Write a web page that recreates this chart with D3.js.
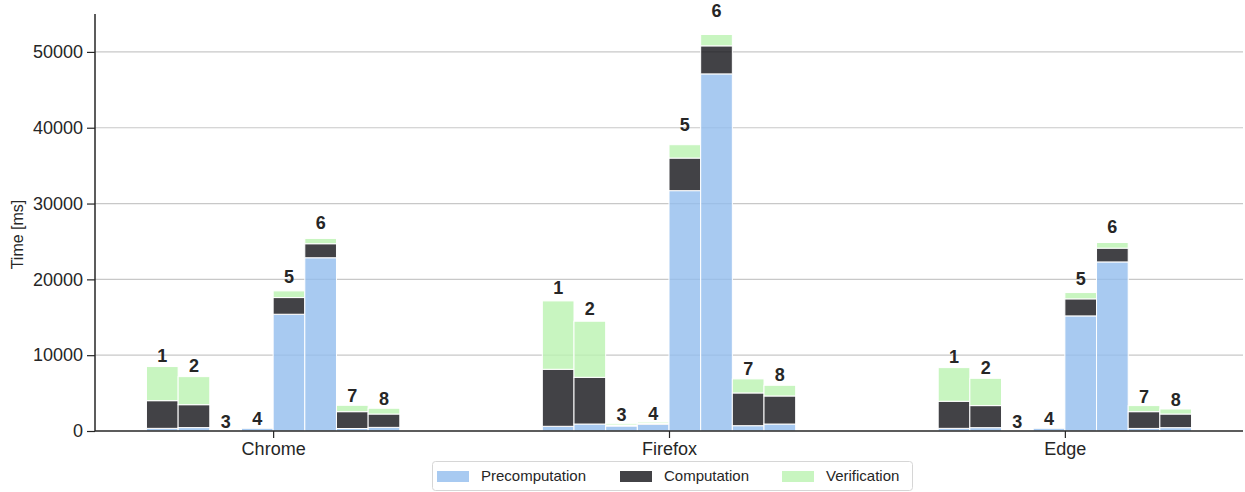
<!DOCTYPE html>
<html>
<head>
<meta charset="utf-8">
<script src="https://cdn.jsdelivr.net/npm/d3@7"></script>
<style>
  html, body { margin: 0; padding: 0; background: #fff; }
  svg { display: block; font-family: "Liberation Sans", Arial, sans-serif; }
</style>
</head>
<body>
<svg id="chart" width="1245" height="492"></svg>
<script>
// Browsers on the x axis, one group of eight runs each
const browsers = ["Chrome", "Firefox", "Edge"];
const runLabels = ["1", "2", "3", "4", "5", "6", "7", "8"];
const phases = ["Precomputation", "Computation", "Verification"];

// Time per phase [ms], one entry per run
const precomputation = {
  Chrome:  [350, 450, 40, 380, 15400, 22850, 330, 480],
  Firefox: [620, 920, 660, 880, 31700, 47100, 700, 920],
  Edge:    [350, 440, 40, 380, 15180, 22300, 340, 440]
};
const computation = {
  Chrome:  [3650, 3020, 30, 30, 2200, 1850, 2220, 1760],
  Firefox: [7520, 6160, 130, 130, 4300, 3700, 4320, 3700],
  Edge:    [3570, 2910, 30, 30, 2250, 1820, 2210, 1800]
};
const verification = {
  Chrome:  [4500, 3700, 50, 50, 880, 700, 840, 760],
  Firefox: [9020, 7400, 220, 180, 1760, 1500, 1850, 1410],
  Edge:    [4440, 3600, 50, 50, 830, 740, 800, 660]
};
const yTicks = [0, 10000, 20000, 30000, 40000, 50000];

const phaseData = [precomputation, computation, verification];
const colors = ["#92bdee", "#131318", "#baf2b0"];
const barOpacity = 0.8;

const svg = d3.select("#chart");
const plotLeft = 95, plotRight = 1243, plotTop = 14, plotBottom = 431;

const x = d3.scaleLinear().domain([-0.45, browsers.length - 0.55]).range([plotLeft, plotRight]);
const y = d3.scaleLinear().domain([0, 55000]).range([plotBottom, plotTop]);
const barW = 0.08;

// grid
svg.append("g")
  .selectAll("line")
  .data(yTicks.slice(1))
  .join("line")
  .attr("x1", plotLeft).attr("x2", plotRight)
  .attr("y1", d => y(d)).attr("y2", d => y(d))
  .attr("stroke", "#c8c8c8").attr("stroke-width", 1.2);

// stacked bars
const rows = [];
browsers.forEach((b, bi) => {
  runLabels.forEach((r, ri) => {
    let base = 0;
    const segs = phaseData.map((pd, pi) => {
      const s = { b, bi, ri, pi, y0: base, y1: base + pd[b][ri] };
      base += pd[b][ri];
      return s;
    });
    rows.push({ b, bi, ri, label: r, total: base, segs });
  });
});

const barX = (bi, ri) => x(bi + (ri - 3.5) * barW - barW / 2);
const barPx = x(barW) - x(0);

svg.append("g")
  .selectAll("rect")
  .data(rows.flatMap(r => r.segs))
  .join("rect")
  .attr("x", d => barX(d.bi, d.ri))
  .attr("width", barPx)
  .attr("y", d => y(d.y1))
  .attr("height", d => y(d.y0) - y(d.y1))
  .attr("fill", d => colors[d.pi])
  .attr("fill-opacity", barOpacity)
  .attr("stroke", "#ffffff")
  .attr("stroke-width", 1);

// run numbers above bars
svg.append("g")
  .selectAll("text")
  .data(rows)
  .join("text")
  .attr("x", d => barX(d.bi, d.ri) + barPx / 2)
  .attr("y", d => y(d.total * 1.04) - 2)
  .attr("text-anchor", "middle")
  .attr("font-size", 18)
  .attr("font-weight", "bold")
  .attr("fill", "#262626")
  .text(d => d.label);

// axes
const yAxis = d3.axisLeft(y).tickValues(yTicks).tickSize(8).tickPadding(4).tickFormat(d3.format("d"));
const gy = svg.append("g").attr("transform", `translate(${plotLeft},0)`).call(yAxis);
gy.select(".domain").attr("d", `M0,${plotTop}V${plotBottom}`);

const xAxis = d3.axisBottom(x).tickValues(browsers.map((_, i) => i)).tickFormat(i => browsers[i]).tickSize(7).tickPadding(4);
const gx = svg.append("g").attr("transform", `translate(0,${plotBottom})`).call(xAxis);
gx.select(".domain").attr("d", `M${plotLeft},0H${plotRight}`);

[gx, gy].forEach(g => {
  g.select(".domain").attr("stroke", "#262626").attr("stroke-width", 1.5);
  g.selectAll(".tick line").attr("stroke", "#262626").attr("stroke-width", 1.2);
  g.selectAll(".tick text").attr("fill", "#262626").attr("font-size", 18).attr("font-family", "Liberation Sans, Arial, sans-serif");
});

svg.append("text")
  .attr("transform", `translate(23,${(plotTop + plotBottom) / 2 + 12}) rotate(-90)`)
  .attr("text-anchor", "middle")
  .attr("font-size", 16)
  .attr("fill", "#262626")
  .text("Time [ms]");

// legend
const lg = svg.append("g");
lg.append("rect")
  .attr("x", 432.5).attr("y", 461.5).attr("width", 480).attr("height", 29)
  .attr("rx", 3).attr("fill", "#fff").attr("stroke", "#d6d6d6");
const legendX = [437, 620, 782];
phases.forEach((p, i) => {
  lg.append("rect")
    .attr("x", legendX[i]).attr("y", 471).attr("width", 32).attr("height", 11)
    .attr("fill", colors[i]).attr("fill-opacity", barOpacity);
  lg.append("text")
    .attr("x", legendX[i] + 44).attr("y", 481)
    .attr("font-size", 15).attr("fill", "#262626")
    .text(p);
});
</script>
</body>
</html>
